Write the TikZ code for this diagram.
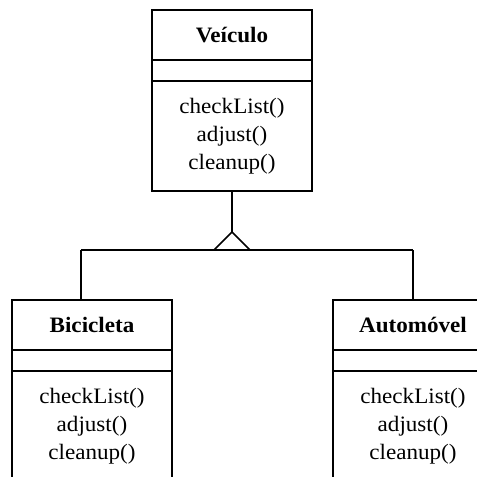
\documentclass[tikz,border=0pt]{standalone}
\usepackage{fontspec}
\setmainfont{Liberation Serif}[FakeStretch=1.05]
\begin{document}
\begin{tikzpicture}[x=1pt,y=-1pt,
  line width=1.5pt,
  part/.style={draw=black, rectangle, minimum width=160pt, inner sep=0pt, outer sep=0pt, anchor=north, align=center},
  namepart/.style={part, minimum height=50pt, font=\fontsize{22}{28}\selectfont\bfseries},
  attrpart/.style={part, minimum height=21pt},
  methpart/.style={part, minimum height=110pt, font=\fontsize{22}{28}\selectfont},
  link/.style={draw=black, line width=1.5pt}
]
\useasboundingbox[fill=white] (0,0) rectangle (477,477);
\begin{scope}
\clip (0,0) rectangle (477,477);

% superclass
\node[namepart] (vn) at (232,10) {Veículo};
\node[attrpart] (va) at (vn.south) {};
\node[methpart] (vm) at (va.south) {checkList()\\adjust()\\cleanup()};

% left subclass
\node[namepart] (bn) at (92,300) {Bicicleta};
\node[attrpart] (ba) at (bn.south) {};
\node[methpart] (bm) at (ba.south) {checkList()\\adjust()\\cleanup()};

% right subclass
\node[namepart] (an) at (413,300) {Automóvel};
\node[attrpart] (aa) at (an.south) {};
\node[methpart] (am) at (aa.south) {checkList()\\adjust()\\cleanup()};

% generalization connector
\coordinate (apex) at (232,232);
\coordinate (lj) at (81,250);
\coordinate (rj) at (413,250);
\draw[link] (vm.south) -- (apex);
\draw[link, line join=miter] (apex) -- ++(-18,18) -- ++(36,0) -- cycle;
\draw[link] (lj) -- (rj);
\draw[link] (lj) -- (lj |- bn.north);
\draw[link] (rj) -- (an.north);
\end{scope}
\end{tikzpicture}
\end{document}
